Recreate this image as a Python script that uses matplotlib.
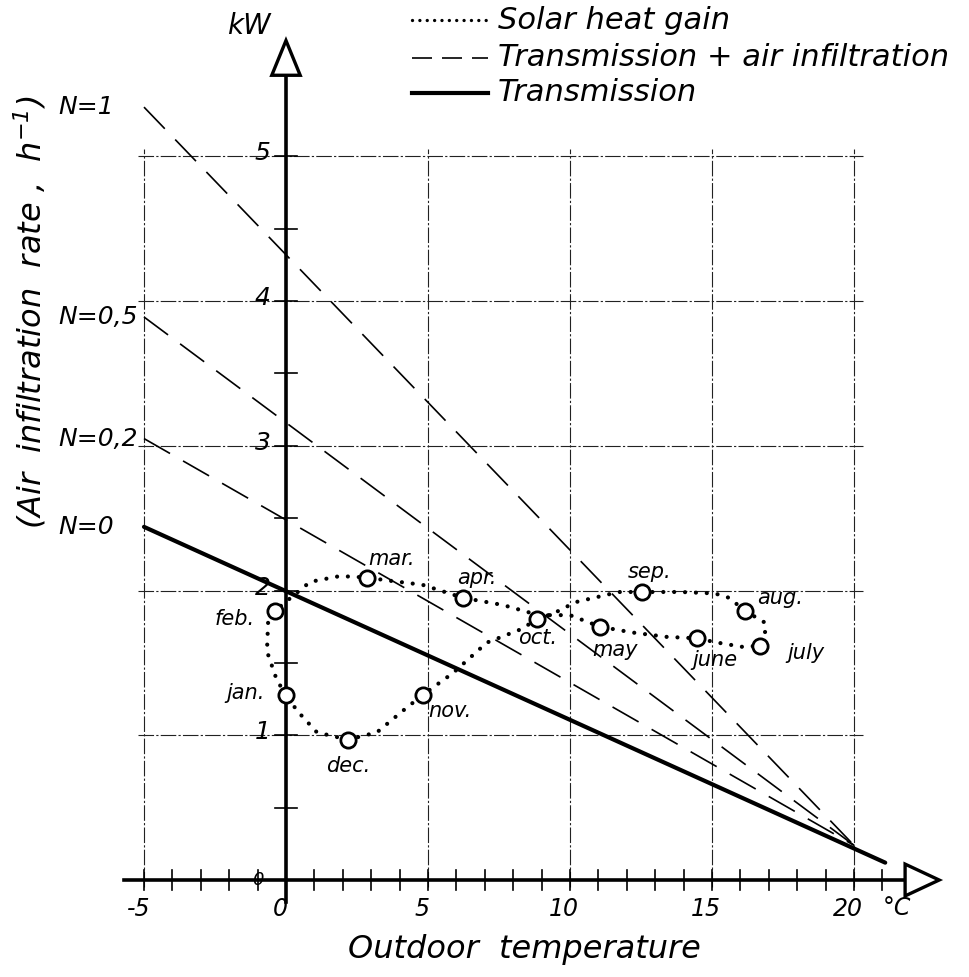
import matplotlib.pyplot as plt
from matplotlib.patches import Polygon
import numpy as np

# ─── DATA ─────────────────────────────────────────────────────────────────────
# heat loss lines: kW at -5 °C, converging near 20 °C
N_LABELS = ['N=0', 'N=0,2', 'N=0,5', 'N=1']
LOSS_AT_M5 = [2.44, 3.05, 3.89, 5.34]
LOSS_AT_20 = [0.24, 0.24, 0.24, 0.24]
TRANS_END_T, TRANS_END_KW = 21.1, 0.12

# monthly solar heat gain (outdoor temp, kW)
MONTHS = ['jan.', 'feb.', 'mar.', 'apr.', 'may', 'june', 'july',
          'aug.', 'sep.', 'oct.', 'nov.', 'dec.']
MONTH_T = [0.0, -0.39, 2.85, 6.23, 11.06, 14.47, 16.69,
           16.16, 12.54, 8.84, 4.82, 2.18]
MONTH_KW = [1.28, 1.86, 2.09, 1.95, 1.75, 1.67, 1.62,
            1.86, 1.99, 1.80, 1.28, 0.97]

# traced course of the dotted loop between the monthly points
LOOP_T = [0.0, -0.32, -0.67, -0.63, -0.39, 0.85, 1.9, 2.85, 3.56, 4.8, 6.23,
          7.64, 8.9, 10.0, 11.06, 12.2, 13.4, 14.47, 15.2, 16.1, 16.69,
          16.9, 16.85, 16.16, 15.6, 15.1, 13.9, 12.54, 11.76, 11.5, 10.2,
          9.5, 8.84, 8.24, 7.07, 5.88, 4.82, 4.12, 3.2, 2.18, 1.09, 0.39, 0.0]
LOOP_KW = [1.28, 1.38, 1.58, 1.78, 1.86, 2.06, 2.10, 2.09, 2.07, 2.04, 1.95,
           1.90, 1.83, 1.83, 1.75, 1.71, 1.68, 1.67, 1.64, 1.61, 1.62,
           1.73, 1.78, 1.86, 1.95, 1.98, 1.99, 1.99, 1.99, 1.98, 1.92,
           1.85, 1.80, 1.73, 1.64, 1.43, 1.28, 1.17, 1.02, 0.97, 1.02, 1.17, 1.28]

# label anchor spots for the months
MONTH_LBL_T = [-1.44, -1.8, 3.73, 6.72, 11.6, 15.1, 18.3, 17.4, 12.8, 8.87, 5.77, 2.18]
MONTH_LBL_KW = [1.29, 1.80, 2.22, 2.09, 1.59, 1.52, 1.57, 1.95, 2.13, 1.67, 1.17, 0.79]

X_TICKS = [-5, 0, 5, 10, 15, 20]
Y_TICKS = [0, 1, 2, 3, 4, 5]
GRID_X = [-5, 5, 10, 15, 20]
GRID_Y = [1, 2, 3, 4, 5]

# ─── FIGURE ───────────────────────────────────────────────────────────────────
plt.rcParams['font.family'] = 'DejaVu Sans'
plt.rcParams['font.style'] = 'italic'

fig = plt.figure(figsize=(9.69, 9.77), dpi=100)
ax = fig.add_axes([0, 0, 1, 1])
ax.set_xlim(-10.07, 24.05)
ax.set_ylim(-0.67, 6.08)
ax.axis('off')

# grid
grid_kw = dict(color='#222222', lw=0.8, linestyle=(0, (14, 2, 2, 2)), zorder=1)
for gx in GRID_X:
    ax.plot([gx, gx], [-0.05, 5.05], **grid_kw)
for gy in GRID_Y:
    ax.plot([-5.2, 20.3], [gy, gy], **grid_kw)

# axes with open arrow heads
ax.plot([-5.7, 21.8], [0, 0], color='black', lw=2.6, zorder=4)
ax.plot([0, 0], [-0.15, 5.56], color='black', lw=2.6, zorder=4)
ax.add_patch(Polygon([[21.8, 0.11], [21.8, -0.11], [23.0, 0]], closed=True,
                     fc='white', ec='black', lw=2.4, zorder=5))
ax.add_patch(Polygon([[-0.5, 5.56], [0.5, 5.56], [0, 5.8]], closed=True,
                     fc='white', ec='black', lw=2.4, zorder=5))

# ticks
for t in range(-5, 22):
    ax.plot([t, t], [-0.07, 0.07], color='black', lw=1.2, zorder=4)
for t in np.arange(0.5, 5.5, 0.5):
    ax.plot([-0.4, 0.4], [t, t], color='black', lw=1.2, zorder=4)

for t in X_TICKS:
    ax.text(t - 0.2, -0.2, f'{t}', ha='center', va='center', fontsize=17)
for t in Y_TICKS[1:]:
    ax.text(-0.55, t + 0.02, f'{t}', ha='right', va='center', fontsize=18)
ax.text(-1.0, 0.0, '0', ha='center', va='center', fontsize=13)

ax.text(-1.3, 5.9, 'kW', ha='center', va='center', fontsize=20)
ax.text(21.5, -0.19, '°C', ha='center', va='center', fontsize=17)
ax.text(8.4, -0.48, 'Outdoor  temperature', ha='center', va='center', fontsize=23)
ax.text(-9.0, 3.92, '(Air  infiltration  rate ,  h$^{-1}$)', ha='center', va='center',
        rotation=90, fontsize=23)

# heat loss lines
for i, lbl in enumerate(N_LABELS):
    if i == 0:
        ax.plot([-5, TRANS_END_T], [LOSS_AT_M5[i], TRANS_END_KW], color='black',
                lw=3.0, solid_capstyle='round', zorder=3)
    else:
        ax.plot([-5, 20], [LOSS_AT_M5[i], LOSS_AT_20[i]], color='black', lw=1.2,
                dashes=(18, 9), zorder=3)
    ax.text(-8.0, LOSS_AT_M5[i] + 0.0, lbl, ha='left', va='center', fontsize=18)

# solar heat gain loop
ax.plot(LOOP_T, LOOP_KW, color='black', lw=3.0, dashes=(0.01, 2.6),
        dash_capstyle='round', zorder=3)
ax.plot(MONTH_T, MONTH_KW, 'o', ms=11, mfc='white', mec='black', mew=2.0, zorder=6)
for m, lt, lk in zip(MONTHS, MONTH_LBL_T, MONTH_LBL_KW):
    ax.text(lt, lk, m, ha='center', va='center', fontsize=15)

# legend
ax.plot([4.45, 7.1], [5.94, 5.94], color='black', lw=2.4, dashes=(0.01, 2.2),
        dash_capstyle='round')
ax.plot([4.45, 7.1], [5.68, 5.68], color='black', lw=1.2, dashes=(12, 6))
ax.plot([4.45, 7.1], [5.44, 5.44], color='black', lw=3.0)
ax.text(7.45, 5.94, 'Solar heat gain', ha='left', va='center', fontsize=22)
ax.text(7.45, 5.68, 'Transmission + air infiltration', ha='left', va='center', fontsize=22)
ax.text(7.45, 5.44, 'Transmission', ha='left', va='center', fontsize=22)

fig.savefig('out.png', dpi=100, facecolor='white')
